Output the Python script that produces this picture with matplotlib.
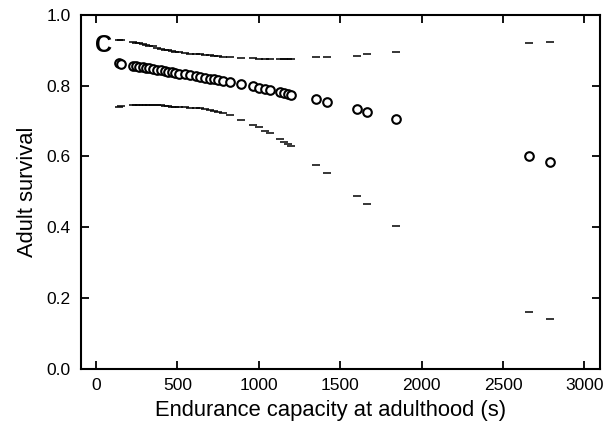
import matplotlib
matplotlib.use('Agg')
from matplotlib import pyplot as plt

plt.rcParams['font.family'] = ['Liberation Sans', 'DejaVu Sans']

############## DATA ################

# endurance capacity (s) of each individual
endurance = [141, 154, 225, 246, 266, 287, 307, 328, 348, 373, 397, 424, 444, 465,
             485, 512, 547, 578, 614, 639, 670, 700, 725, 751, 782, 823, 891, 963,
             1001, 1038, 1069, 1130, 1157, 1178, 1198, 1352, 1419, 1603, 1665, 1843,
             2660, 2789]

# predicted adult survival
survival = [0.863, 0.862, 0.857, 0.855, 0.853, 0.852, 0.850, 0.849, 0.847, 0.845,
            0.843, 0.841, 0.840, 0.838, 0.837, 0.834, 0.832, 0.829, 0.827, 0.825,
            0.822, 0.820, 0.818, 0.816, 0.814, 0.810, 0.805, 0.798, 0.794, 0.790,
            0.787, 0.781, 0.778, 0.776, 0.775, 0.762, 0.753, 0.733, 0.726, 0.706,
            0.601, 0.584]

# upper / lower confidence limits
upper = [0.930, 0.928, 0.924, 0.922, 0.920, 0.918, 0.915, 0.913, 0.911, 0.908,
         0.905, 0.902, 0.900, 0.898, 0.896, 0.894, 0.892, 0.891, 0.890, 0.889,
         0.887, 0.886, 0.884, 0.883, 0.881, 0.880, 0.878, 0.877, 0.876, 0.876,
         0.875, 0.875, 0.875, 0.875, 0.875, 0.880, 0.880, 0.885, 0.890, 0.894,
         0.920, 0.924]

lower = [0.741, 0.742, 0.744, 0.745, 0.745, 0.745, 0.745, 0.745, 0.745, 0.745,
         0.744, 0.743, 0.742, 0.741, 0.740, 0.740, 0.739, 0.738, 0.737, 0.736,
         0.733, 0.731, 0.729, 0.726, 0.723, 0.716, 0.704, 0.690, 0.682, 0.673,
         0.665, 0.648, 0.640, 0.634, 0.629, 0.576, 0.552, 0.488, 0.465, 0.403,
         0.160, 0.140]

xticks = [0, 500, 1000, 1500, 2000, 2500, 3000]
yticks = [0.0, 0.2, 0.4, 0.6, 0.8, 1.0]

############## PLOT ################

fig = plt.figure(figsize=(6.06, 4.40), dpi=100)
ax = fig.add_axes([80.5 / 606, 1 - 368.5 / 440, 519.5 / 606, 353.5 / 440])

ax.plot(endurance, upper, linestyle='none', marker='_', markersize=5.5,
        markeredgewidth=1.1, color='black')
ax.plot(endurance, lower, linestyle='none', marker='_', markersize=5.5,
        markeredgewidth=1.1, color='black')
ax.plot(endurance, survival, linestyle='none', marker='o', markersize=6.2,
        markerfacecolor='white', markeredgecolor='black', markeredgewidth=1.5)

ax.set_xlim(-95, 3096)
ax.set_ylim(0, 1)
ax.set_xticks(xticks)
ax.set_xticklabels([str(x) for x in xticks])
ax.set_yticks(yticks)
ax.set_yticklabels(['{:.1f}'.format(y) for y in yticks])

ax.tick_params(direction='in', length=5.5, width=1.3, labelsize=12.5,
               top=True, right=True, pad=7)
for s in ax.spines.values():
    s.set_linewidth(1.5)

ax.set_xlabel('Endurance capacity at adulthood (s)', fontsize=15.8)
ax.xaxis.set_label_coords(0.482, -0.09)
ax.set_ylabel('Adult survival', fontsize=15.8, labelpad=6)

ax.text(0.027, 0.915, 'C', transform=ax.transAxes, fontsize=17,
        fontweight='bold', ha='left', va='center')

plt.savefig('out.png', dpi=100)
plt.close()
